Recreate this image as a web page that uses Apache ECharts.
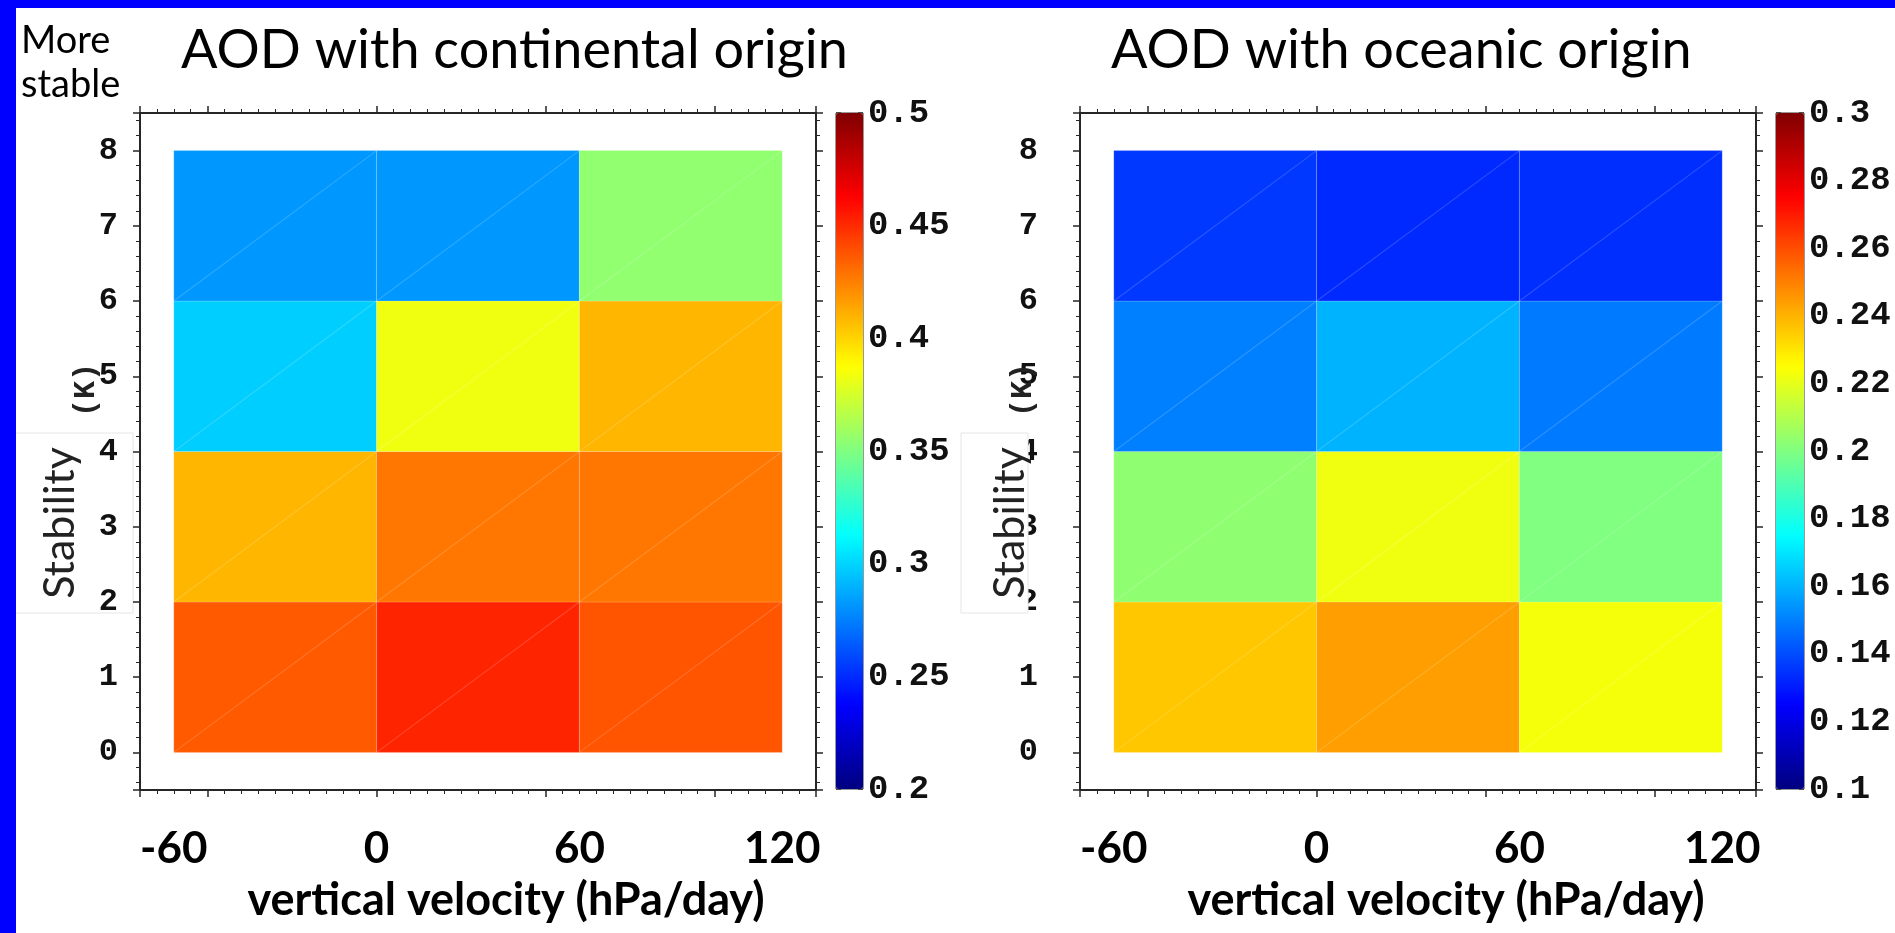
<!DOCTYPE html>
<html>
<head>
<meta charset="utf-8">
<title>AOD by stability and vertical velocity</title>
<script src="https://cdn.jsdelivr.net/npm/echarts@6/dist/echarts.min.js"></script>
<style>
  html, body { margin: 0; padding: 0; background: #ffffff; }
  #chart { width: 1895px; height: 933px; }
</style>
</head>
<body>
<div id="chart"></div>
<script>
// Bin edges: vertical velocity (hPa/day) and stability (K)
const velocityEdges = [-60, 0, 60, 120];
const stabilityEdges = [0, 2, 4, 6, 8];

// Tick labels
const velocityTickLabels = [-60, 0, 60, 120];
const stabilityTickLabels = [0, 1, 2, 3, 4, 5, 6, 7, 8];
const continentalScaleTicks = [0.2, 0.25, 0.3, 0.35, 0.4, 0.45, 0.5];
const oceanicScaleTicks = [0.1, 0.12, 0.14, 0.16, 0.18, 0.2, 0.22, 0.24, 0.26, 0.28, 0.3];

// Mean AOD per bin, rows from the lowest stability bin upward,
// columns from -60..0, 0..60, 60..120 hPa/day
const continentalAOD = [
  [0.436, 0.452, 0.438],
  [0.409, 0.428, 0.428],
  [0.298, 0.383, 0.409],
  [0.282, 0.282, 0.355]
];
const oceanicAOD = [
  [0.236, 0.244, 0.223],
  [0.203, 0.222, 0.200],
  [0.150, 0.160, 0.149],
  [0.136, 0.133, 0.134]
];

// Jet colour ramp
const jet = ['#000080', '#0000ff', '#0080ff', '#00ffff', '#80ff80',
             '#ffff00', '#ff8000', '#ff0000', '#800000'];

function toCells(grid) {
  const cells = [];
  for (let r = 0; r < grid.length; r++) {
    for (let c = 0; c < grid[r].length; c++) {
      cells.push([velocityEdges[c], velocityEdges[c + 1],
                  stabilityEdges[r], stabilityEdges[r + 1], grid[r][c]]);
    }
  }
  return cells;
}

function renderCell(params, api) {
  const p0 = api.coord([api.value(0), api.value(2)]);
  const p1 = api.coord([api.value(1), api.value(3)]);
  const color = api.visual('color');
  const faint = 'rgba(255,255,255,0.16)';
  return {
    type: 'group',
    children: [
      { type: 'rect',
        shape: { x: p0[0], y: p1[1], width: p1[0] - p0[0], height: p0[1] - p1[1] },
        style: { fill: color, stroke: faint, lineWidth: 1 } },
      { type: 'line',
        shape: { x1: p0[0], y1: p0[1], x2: p1[0], y2: p1[1] },
        style: { stroke: faint, lineWidth: 1.2 } }
    ]
  };
}

const frameColor = '#262626';
const mono = { fontFamily: 'Liberation Mono', color: '#111' };

function frameX(gridIndex, position, withLabels) {
  return {
    type: 'value', gridIndex: gridIndex, position: position,
    min: -70, max: 130, splitNumber: 4,
    axisLine: { show: true, onZero: false, lineStyle: { color: frameColor, width: 2 } },
    axisTick: { show: true, length: 7, lineStyle: { color: frameColor, width: 1.5 } },
    minorTick: { show: true, splitNumber: 10, length: 4, lineStyle: { color: frameColor, width: 1 } },
    splitLine: { show: false },
    axisLabel: withLabels ? {
      show: true, customValues: velocityTickLabels, margin: 37,
      fontFamily: 'Lato', fontWeight: 'bold', fontSize: 44, color: '#000'
    } : { show: false },
    name: withLabels ? 'vertical velocity (hPa/day)' : '',
    nameLocation: 'middle', nameGap: 88,
    nameTextStyle: { fontFamily: 'Lato', fontWeight: 'bold', fontSize: 45, color: '#000',
                     padding: [0, 0, 0, 56] }
  };
}

function frameY(gridIndex, position, labelOpts) {
  return {
    type: 'value', gridIndex: gridIndex, position: position,
    min: -0.5, max: 8.5, splitNumber: 9,
    axisLine: { show: true, onZero: false, lineStyle: { color: frameColor, width: 2 } },
    axisTick: { show: true, length: 7, lineStyle: { color: frameColor, width: 1.5 } },
    minorTick: { show: true, splitNumber: 5, length: 4, lineStyle: { color: frameColor, width: 1 } },
    splitLine: { show: false },
    axisLabel: labelOpts ? Object.assign({
      show: true, customValues: stabilityTickLabels, fontSize: 32, fontWeight: 'bold'
    }, mono, labelOpts) : { show: false }
  };
}

function scaleX(gridIndex) {
  return { type: 'value', gridIndex: gridIndex, show: false, min: 0, max: 1 };
}

function scaleY(gridIndex, position, lo, hi, step, ticks, withLabels) {
  return {
    type: 'value', gridIndex: gridIndex, position: position,
    min: lo, max: hi, interval: step,
    axisLine: { show: false },
    axisTick: { show: true, inside: true, length: 5, lineStyle: { color: '#333', width: 1.5 } },
    splitLine: { show: false },
    axisLabel: withLabels ? Object.assign({
      show: true, customValues: ticks, margin: 5, fontSize: 34, fontWeight: 'bold',
      padding: [10, 0, 0, 0]
    }, mono) : { show: false }
  };
}

const plotTop = 113, plotH = 677, plotW = 676;
const leftPlotX = 140, rightPlotX = 1080;

const option = {
  backgroundColor: '#ffffff',
  animation: false,
  title: [
    { text: 'AOD with continental origin', left: 176, top: 19,
      textStyle: { fontFamily: 'Lato', fontWeight: 'normal', fontSize: 54, color: '#000' } },
    { text: 'AOD with oceanic origin', left: 1106, top: 19,
      textStyle: { fontFamily: 'Lato', fontWeight: 'normal', fontSize: 54, color: '#000' } },
    { text: 'More\nstable', left: 16, top: 14,
      textStyle: { fontFamily: 'Lato', fontWeight: 'normal', fontSize: 38, lineHeight: 44, color: '#000' } }
  ],
  grid: [
    { left: leftPlotX, top: plotTop, width: plotW, height: plotH, containLabel: false },
    { left: rightPlotX, top: plotTop, width: plotW, height: plotH, containLabel: false },
    { left: 836, top: plotTop, width: 27, height: 676, show: true, borderColor: '#333', borderWidth: 1 },
    { left: 1776, top: plotTop, width: 28, height: 676, show: true, borderColor: '#333', borderWidth: 1 }
  ],
  xAxis: [
    frameX(0, 'bottom', true), frameX(0, 'top', false),
    frameX(1, 'bottom', true), frameX(1, 'top', false),
    scaleX(2), scaleX(3)
  ],
  yAxis: [
    frameY(0, 'left', { margin: 22 }), frameY(0, 'right', null),
    frameY(1, 'left', { margin: 42 }), frameY(1, 'right', null),
    scaleY(2, 'left', 0.2, 0.5, 0.05, continentalScaleTicks, false),
    scaleY(2, 'right', 0.2, 0.5, 0.05, continentalScaleTicks, true),
    scaleY(3, 'left', 0.1, 0.3, 0.02, oceanicScaleTicks, false),
    scaleY(3, 'right', 0.1, 0.3, 0.02, oceanicScaleTicks, true)
  ],
  visualMap: [
    { type: 'continuous', seriesIndex: 0, dimension: 4, min: 0.2, max: 0.5,
      inRange: { color: jet }, orient: 'vertical', left: 836, top: plotTop,
      itemWidth: 27, itemHeight: 676, calculable: false, padding: 0,
      text: null, showLabel: false, hoverLink: false },
    { type: 'continuous', seriesIndex: 1, dimension: 4, min: 0.1, max: 0.3,
      inRange: { color: jet }, orient: 'vertical', left: 1776, top: plotTop,
      itemWidth: 28, itemHeight: 676, calculable: false, padding: 0,
      text: null, showLabel: false, hoverLink: false }
  ],
  series: [
    { type: 'custom', name: 'continental', xAxisIndex: 0, yAxisIndex: 0,
      renderItem: renderCell, encode: { x: [0, 1], y: [2, 3] },
      data: toCells(continentalAOD), z: 1 },
    { type: 'custom', name: 'oceanic', xAxisIndex: 2, yAxisIndex: 2,
      renderItem: renderCell, encode: { x: [0, 1], y: [2, 3] },
      data: toCells(oceanicAOD), z: 1 }
  ],
  graphic: [
    { type: 'rect', left: 0, top: 0, z: 20, shape: { width: 16, height: 933 }, style: { fill: '#0000ff' } },
    { type: 'rect', left: 0, top: 0, z: 20, shape: { width: 1895, height: 8 }, style: { fill: '#0000ff' } },
    { type: 'rect', z: -1, shape: { x: 15, y: 433, width: 118, height: 180 },
      style: { fill: '#ffffff', stroke: '#e6e6e6', lineWidth: 1 } },
    { type: 'rect', z: 20, shape: { x: 961, y: 433, width: 67, height: 180 },
      style: { fill: '#ffffff', stroke: '#e6e6e6', lineWidth: 1 } },
    { type: 'text', z: 21, x: 60, y: 523, rotation: Math.PI / 2,
      style: { text: 'Stability', fontFamily: 'Lato', fontSize: 43, fill: '#222',
               align: 'center', verticalAlign: 'middle' } },
    { type: 'text', z: 21, x: 86, y: 390, rotation: Math.PI / 2,
      style: { text: '(K)', fontFamily: 'Liberation Mono', fontWeight: 'bold', fontSize: 30,
               fill: '#222', align: 'center', verticalAlign: 'middle' } },
    { type: 'text', z: 21, x: 1010, y: 523, rotation: Math.PI / 2,
      style: { text: 'Stability', fontFamily: 'Lato', fontSize: 43, fill: '#222',
               align: 'center', verticalAlign: 'middle' } },
    { type: 'text', z: 21, x: 1023, y: 390, rotation: Math.PI / 2,
      style: { text: '(K)', fontFamily: 'Liberation Mono', fontWeight: 'bold', fontSize: 30,
               fill: '#222', align: 'center', verticalAlign: 'middle' } }
  ]
};

const chart = echarts.init(document.getElementById('chart'), null, { renderer: 'canvas' });
chart.setOption(option);
</script>
</body>
</html>
